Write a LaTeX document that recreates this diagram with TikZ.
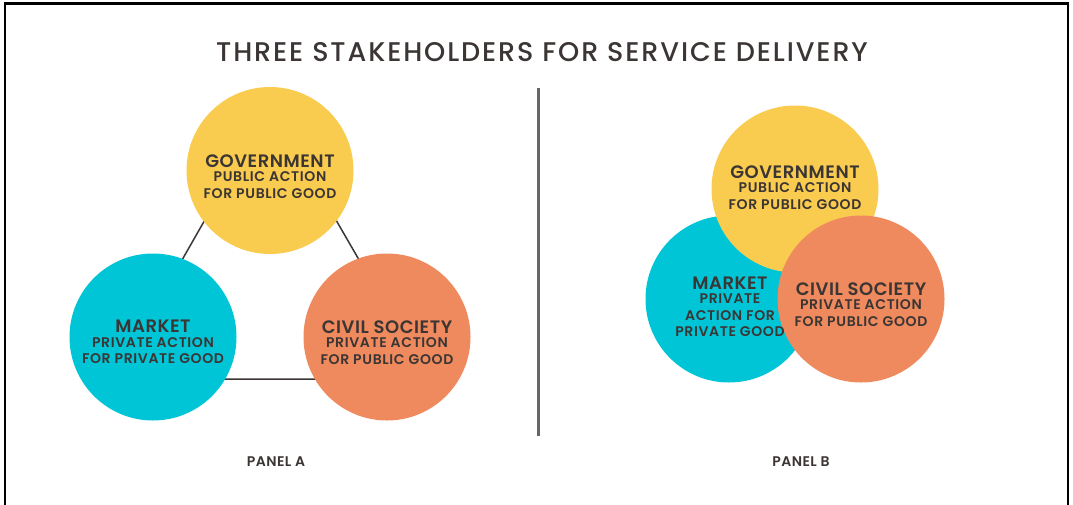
\documentclass[tikz,border=0pt]{standalone}
\usepackage{fontspec}
\setmainfont{Poppins}
\newfontfamily\mediumfont{Poppins Medium}[LetterSpace=7]
\newfontfamily\semifont{Poppins SemiBold}[LetterSpace=3]
\newfontfamily\semiwidefont{Poppins SemiBold}[LetterSpace=4.5]
\definecolor{govyellow}{HTML}{F9CB4F}
\definecolor{mkteal}{HTML}{00C5D6}
\definecolor{civcoral}{HTML}{EE8A5D}
\definecolor{inkgray}{HTML}{3B3534}
\definecolor{rulegray}{HTML}{666666}
\newcommand{\headfont}{\semifont\fontsize{18}{16.5}\selectfont}
\newcommand{\subfont}{\semiwidefont\fontsize{14}{16.5}\selectfont}

\begin{document}
\begin{tikzpicture}[
    x=1pt, y=-1pt,
    govnode/.style={circle, fill=govyellow, minimum size=167pt, inner sep=0pt},
    mktnode/.style={circle, fill=mkteal, minimum size=167pt, inner sep=0pt},
    civnode/.style={circle, fill=civcoral, minimum size=167pt, inner sep=0pt},
    circtext/.style={align=center, text=inkgray, font=\subfont, inner sep=0pt},
    link/.style={draw=inkgray, line width=1.5pt},
    paneltext/.style={text=inkgray, font=\semifont\fontsize{14}{14}\selectfont}
  ]
  \useasboundingbox (0,0) rectangle (1073,504);

  %Frame
  \draw[line width=2.5pt, black] (5,510) -- (5,3.5) -- (1068,3.5) -- (1068,510);

  %Title
  \node[text=inkgray, font=\mediumfont\fontsize{27}{27}\selectfont] (title) at (542,52)
    {THREE STAKEHOLDERS FOR SERVICE DELIVERY};

  %Panel A triangle
  \coordinate (apexA) at (270,106);
  \coordinate (leftA) at (114,379);
  \coordinate (rightA) at (428,379);
  \draw[link] (apexA) -- (leftA) -- (rightA) -- cycle;

  %Panel A circles
  \node[govnode] at (270,170.5) (govA) {};
  \node[mktnode] at (153,337) (mktA) {};
  \node[civnode] at (387,337) (civA) {};

  \node[circtext] at ([yshift=-6pt]govA.center) (govAtext)
    {{\headfont GOVERNMENT}\\[-2pt] PUBLIC ACTION\\ FOR PUBLIC GOOD};
  \node[circtext] at ([yshift=-5pt]mktA.center) (mktAtext)
    {{\headfont MARKET}\\[-2pt] PRIVATE ACTION\\ FOR PRIVATE GOOD};
  \node[circtext] at ([yshift=-5.5pt]civA.center) (civAtext)
    {{\headfont CIVIL SOCIETY}\\[-2pt] PRIVATE ACTION\\ FOR PUBLIC GOOD};

  %Divider
  \coordinate (divtop) at (538,88);
  \coordinate (divbot) at (538,436);
  \draw[rulegray, line width=3pt] (divtop) -- (divbot);

  %Panel B circles
  \node[mktnode] at (729,299) (mktB) {};
  \node[govnode] at (795,189) (govB) {};
  \node[civnode] at (861,299) (civB) {};

  \node[circtext] at ([yshift=1.5pt]govB.center) (govBtext)
    {{\headfont GOVERNMENT}\\[-2pt] PUBLIC ACTION\\ FOR PUBLIC GOOD};
  \node[circtext] at ([xshift=1pt,yshift=-8pt]mktB.center) (mktBtext)
    {{\headfont MARKET}\\[-2pt] PRIVATE\\ ACTION FOR\\ PRIVATE GOOD};
  \node[circtext] at ([yshift=-5.5pt]civB.center) (civBtext)
    {{\headfont CIVIL SOCIETY}\\[-2pt] PRIVATE ACTION\\ FOR PUBLIC GOOD};

  %Labels
  \node[paneltext] at (276,462) (panelA) {PANEL A};
  \node[paneltext] at (801,462) (panelB) {PANEL B};

\end{tikzpicture}
\end{document}
